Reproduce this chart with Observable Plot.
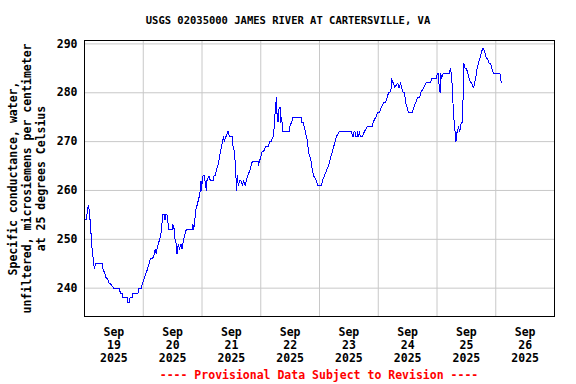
<!DOCTYPE html>
<html><head><meta charset="utf-8">
<script src="https://cdn.jsdelivr.net/npm/d3@7"></script>
<script src="https://cdn.jsdelivr.net/npm/@observablehq/plot@0.6"></script>
<style>
body{margin:0;background:#fff;width:576px;height:384px;overflow:hidden;font-family:"DejaVu Sans Mono",monospace;font-weight:bold;}
#title{height:30px;box-sizing:border-box;padding-top:15px;font-size:10.5px;line-height:11px;text-align:center;color:#000;white-space:pre;}
#chart svg{display:block;}
#foot{box-sizing:border-box;padding-left:84px;padding-right:22px;text-align:center;color:#f00;font-size:11.5px;line-height:20px;height:20px;white-space:pre;}
</style></head><body>
<div id="title"></div>
<div id="chart"></div>
<div id="foot"></div>
<script>
const titleText = "USGS 02035000 JAMES RIVER AT CARTERSVILLE, VA";
const footText = "---- Provisional Data Subject to Revision ----";
const yLabelLines = ["Specific conductance, water,", "unfiltered, microsiemens per centimeter", "at 25 degrees Celsius"];

// hours after 2025-09-18 12:00
const hours = [
 0.2,0.7,1.0,1.2,1.6,1.9,2.0,2.3,2.5,2.7,2.9,3.4,3.7,4.1,4.5,7.4,7.5,8.3,8.9,9.4,10.0,10.5,11.9,14.3,14.6,15.5,15.7,17.5,17.6,18.4,18.6,19.6,19.8,22.0,22.1,23.2,23.7,24.4,25.1,25.8,26.4,26.9,27.8,28.5,28.9,29.3,29.6,30.1,30.7,31.2,31.6,32.0,
 32.2,32.6,32.9,33.1,33.7,33.9,34.5,35.9,36.1,36.7,37.0,37.5,37.8,38.3,38.8,39.4,39.9,40.5,41.0,41.6,44.0,44.3,44.6,45.1,45.4,46.0,46.5,47.0,47.3,47.6,47.8,48.1,48.4,48.9,49.2,49.8,50.0,50.9,51.4,52.7,52.9,53.4,53.8,54.4,54.9,55.5,56.0,56.3,56.8,57.1,57.6,57.9,58.5,58.7,59.3,60.4,60.7,61.2,61.7,62.1,62.5,62.8,
 63.4,63.9,64.5,65.0,65.6,66.1,66.6,67.5,68.0,68.6,70.9,71.0,71.5,72.1,72.6,73.2,74.0,75.1,75.6,76.2,77.0,77.5,78.0,78.4,78.7,79.1,79.5,79.9,80.0,80.5,81.1,83.6,83.8,84.6,85.2,88.6,88.7,89.3,89.8,90.2,90.6,91.2,91.4,92.0,92.6,93.1,93.6,
 94.7,95.3,96.9,97.2,98.0,98.8,99.6,100.2,100.7,101.3,101.8,102.4,102.9,104.0,109.2,109.4,110.0,110.1,110.5,110.7,111.5,111.6,111.9,112.3,112.7,113.5,114.3,115.4,117.6,117.9,119.0,119.8,120.6,121.2,122.2,123.0,123.6,124.2,124.7,125.3,
 125.5,125.8,126.3,126.6,128.0,128.5,129.1,129.6,130.2,130.7,131.2,131.8,132.3,134.0,134.5,135.3,136.1,137.0,137.2,138.6,139.4,141.3,141.9,143.8,144.1,144.6,144.9,145.3,145.5,145.9,146.5,149.2,149.4,149.8,150.3,150.6,151.0,151.4,151.7,152.0,152.2,152.8,153.3,153.6,153.9,154.4,154.7,154.9,
 155.5,156.0,156.6,157.1,157.7,158.2,158.8,159.0,159.3,159.8,160.4,160.9,161.5,162.0,162.6,163.1,163.7,164.2,164.7,165.3,165.9,166.4,167.0,169.7,169.9,170.3
];
const conductance = [
 254,254,255,256,257,256,254,254,252,251,249,247,245,244,245,245,244,243,242,242,241,241,240,240,239,239,238,238,237,237,238,238,239,239,240,240,241,242,243,244,245,246,246,247,248,247,248,249,250,251,253,255,
 255,255,254,255,255,254,252,252,253,252,250,249,247,249,248,249,248,250,251,252,252,253,252,254,256,257,258,259,260,262,260,262,263,263,262,260,262,263,262,262,263,263,264,265,266,268,269,270,271,270,271,271,272,272,271,271,269,268,265,260,263,261,
 262,262,261,262,261,262,263,264,265,266,266,265,266,267,268,268,269,269,270,270,271,273,277,279,275,274,277,277,274,275,272,272,273,274,275,275,274,274,273,272,271,270,268,267,266,264,263,
 262,261,261,262,263,264,265,266,267,268,269,270,271,272,272,271,271,272,272,271,271,272,271,272,271,271,272,273,273,274,275,276,276,277,278,278,279,280,280,281,
 283,282,282,281,282,281,282,281,280,280,278,277,276,276,277,278,279,279,280,281,282,282,283,283,284,284,281,280,284,283,284,284,285,284,281,277,274,272,270,271,272,273,272,273,274,274,280,286,
 285,285,284,283,282,282,281,281,282,283,285,286,287,288,289,289,288,287,287,286,286,285,284,284,283,282
];

const startTime = new Date(2025, 8, 18, 12, 0);
const endTime = new Date(2025, 8, 26, 12, 0);
const tickMonth = "Sep";
const tickYear = 2025;
const tickDays = [19, 20, 21, 22, 23, 24, 25, 26];
const gridDays = [19, 20, 21, 22, 23, 24, 25];
const yTicks = [240, 250, 260, 270, 280, 290];
const yDomain = [234.2, 290.7];

document.getElementById("title").textContent = titleText;
document.getElementById("foot").textContent = footText;

const data = hours.map((h, i) => ({t: new Date(+startTime + h * 3600e3), v: conductance[i]}));
const tickDates = tickDays.map(d => new Date(tickYear, 8, d, 0, 0));
const gridDates = gridDays.map(d => new Date(tickYear, 8, d, 12, 0));

const chart = Plot.plot({
  width: 576,
  height: 335,
  marginTop: 10,
  marginBottom: 49,
  marginLeft: 84,
  marginRight: 22,
  style: {fontFamily: "'DejaVu Sans Mono', monospace", fontWeight: "bold", fontSize: "11.5px", color: "#000", background: "#fff"},
  x: {type: "time", domain: [startTime, endTime]},
  y: {domain: yDomain},
  marks: [
    Plot.gridX(gridDates, {stroke: "#c8c8c8", strokeOpacity: 1, strokeWidth: 1}),
    Plot.gridY(yTicks, {stroke: "#c8c8c8", strokeOpacity: 1, strokeWidth: 1}),
    Plot.line(data, {x: "t", y: "v", stroke: "#0000ff", strokeWidth: 1, shapeRendering: "crispEdges"}),
    Plot.frame({stroke: "#000", strokeWidth: 1}),
    Plot.axisY(yTicks, {tickSize: 0, tickPadding: 7, label: null, fontWeight: "bold", fill: "#000"}),
    Plot.axisX(tickDates, {tickSize: 0, tickPadding: 10, label: null, lineHeight: 1.13, fontWeight: "bold", fill: "#000",
      tickFormat: d => `${tickMonth}\n${d.getDate()}\n${tickYear}`}),
    Plot.text([yLabelLines.join("\n")], {frameAnchor: "left", dx: -58, rotate: -90, textAnchor: "middle", lineAnchor: "middle", lineHeight: 1.2, fontWeight: "bold", fill: "#000", text: d => d})
  ]
});
document.getElementById("chart").appendChild(chart);
</script>
</body></html>
